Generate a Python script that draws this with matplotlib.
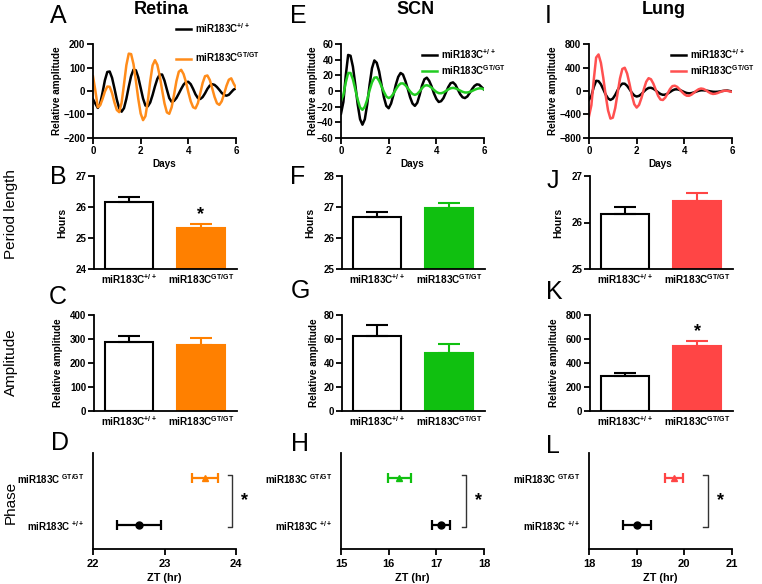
import matplotlib
matplotlib.use("Agg")
import matplotlib.pyplot as plt
import numpy as np

plt.rcParams['font.family'] = ['Liberation Sans', 'DejaVu Sans']
plt.rcParams['font.weight'] = 'bold'
plt.rcParams['mathtext.fontset'] = 'custom'
plt.rcParams['mathtext.rm'] = 'Liberation Sans:bold'
plt.rcParams['mathtext.bf'] = 'Liberation Sans:bold'
plt.rcParams['mathtext.default'] = 'rm'

W, H = 762, 584

# ---- data ----
tissues = ['Retina', 'SCN', 'Lung']
colors = ['#FF8000', '#10C010', '#FF4545']
line_colors = ['#FF8C1A', '#22CC22', '#FF5050']

# bioluminescence traces, one value every 0.1 day (0..6 days)
retina_wt = [-35, -54, -72, -54, -7, 46, 81, 83, 56, 11, -37, -74, -88, -73, -33, 18, 64, 91, 88, 58,
             13, -32, -62, -65, -49, -17, 20, 52, 70, 70, 44, 6, -30, -46, -42, -30, -11, 9, 27, 38,
             39, 29, 9, -14, -30, -34, -26, -10, 9, 23, 29, 26, 17, 5, -8, -17, -20, -16, -5, 6, 11]
retina_gt = [62, 1, -69, -61, -34, -2, 19, 18, -9, -49, -81, -90, -50, 28, 110, 159, 157, 114, 43, -34,
             -96, -124, -107, -43, 41, 109, 131, 111, 64, 4, -53, -91, -97, -69, -16, 42, 82, 90, 72, 38,
             -5, -44, -69, -74, -52, -10, 34, 63, 66, 47, 12, -25, -52, -59, -44, -13, 22, 48, 54, 32, 14]
scn_wt = [-29, -14, 20, 46, 45, 31, 8, -17, -36, -43, -36, -17, 8, 29, 39, 36, 25, 8, -8, -19,
          -22, -16, -5, 8, 18, 23, 21, 13, 3, -8, -16, -19, -15, -5, 7, 15, 17, 13, 6, -3,
          -10, -14, -13, -9, -2, 5, 10, 11, 8, 2, -4, -8, -9, -7, -2.5, 2.5, 6.5, 8.5, 8, 5, 2]
scn_gt = [-12, -5, 11, 23, 23, 15, 2, -11, -21, -24, -20, -11, 1, 11, 17, 17.5, 13, 6, -1, -7,
          -9, -7.5, -3.5, 2, 6.7, 9.6, 9.7, 7.4, 3.6, -0.6, -3.8, -5, -3.7, -0.4, 3.6, 6.7, 7.4, 6.4, 4.2, 1.4,
          -1.2, -2.7, -2.9, -1.9, 0, 2, 3.5, 4, 3.4, 2.1, 0.5, -1, -1.9, -1.9, -1.2, 0, 1.5, 2.7, 3.4, 3.2, 2]
lung_wt = [-152, -82, 68, 173, 168, 113, 28, -61, -127, -152, -129, -67, 14, 85, 126, 124, 88, 31, -31, -77,
           -94, -83, -52, -10, 28, 52, 55, 39, 10, -23, -51, -65, -62, -44, -17, 10, 27, 29, 19, 1,
           -19, -34, -40, -36, -24, -10, 4, 12, 12, 8, 1, -7, -13, -15, -13, -7, 0, 6, 8, 0, -8]
lung_gt = [-430, -241, 192, 570, 622, 479, 222, -75, -331, -470, -454, -291, -39, 213, 376, 396, 297, 121, -75, -225,
           -282, -237, -120, 29, 157, 218, 200, 126, 21, -82, -146, -153, -112, -40, 34, 83, 90, 70, 30, -16,
           -56, -80, -81, -62, -31, 3, 30, 42, 35, 14, -14, -38, -50, -46, -34, -17, -2, 6, 3, -6, -14]
traces_wt = [retina_wt, scn_wt, lung_wt]
traces_gt = [retina_gt, scn_gt, lung_gt]

# period length (hours), mean and SEM
period_wt = [26.17, 26.69, 26.18]
period_wt_err = [0.16, 0.16, 0.15]
period_gt = [25.31, 26.96, 26.46]
period_gt_err = [0.14, 0.17, 0.18]

# amplitude
amp_wt = [289, 62.5, 291]
amp_wt_err = [23, 9, 26]
amp_gt = [275, 48, 540]
amp_gt_err = [28, 8, 40]

# phase (ZT, hr)
phase_wt = [22.64, 17.09, 19.01]
phase_wt_err = [0.31, 0.19, 0.29]
phase_gt = [23.57, 16.22, 19.78]
phase_gt_err = [0.18, 0.24, 0.19]

trace_ylim = [(-200, 200), (-60, 60), (-800, 800)]
trace_yticks = [np.arange(-200, 201, 100), np.arange(-60, 61, 20), np.arange(-800, 801, 400)]
period_ylim = [(24, 27), (25, 28), (25, 27)]
amp_ylim = [(0, 400), (0, 80), (0, 800)]
amp_step = [100, 20, 200]
phase_xlim = [(22, 24), (15, 18), (18, 21)]

wt_lab = 'miR183C$^{+/+}$'
gt_lab = 'miR183C$^{GT/GT}$'

# ---- layout (pixel boxes: left, top, right, bottom) ----
col_x = [(93, 236), (341, 484), (589, 732)]
rows = [(44, 138), (176, 269), (315, 411), (453, 549)]


def box(l, t, r, b):
    return [l / W, 1 - b / H, (r - l) / W, (b - t) / H]


def style(ax):
    for s in ['top', 'right']:
        ax.spines[s].set_visible(False)
    for s in ['left', 'bottom']:
        ax.spines[s].set_linewidth(1.3)
    ax.tick_params(width=1.3, length=4, labelsize=7, pad=1.5)


fig = plt.figure(figsize=(W / 100, H / 100), dpi=100)

for i in range(3):
    l, r = col_x[i]
    c = colors[i]

    # --- traces ---
    ax = fig.add_axes(box(l, rows[0][0], r, rows[0][1]))
    style(ax)
    days = np.arange(len(traces_wt[i])) / 10
    ax.plot(days, traces_wt[i], color='black', lw=1.8, label=wt_lab)
    ax.plot(days, traces_gt[i], color=line_colors[i], lw=1.8, label=gt_lab)
    ax.set_xlim(0, 6)
    ax.set_ylim(*trace_ylim[i])
    ax.set_xticks([0, 2, 4, 6])
    ax.set_yticks(trace_yticks[i])
    ax.set_xlabel('Days', fontsize=7.2, fontweight='bold')
    ax.xaxis.set_label_coords(0.5, -0.22)
    ax.set_ylabel('Relative amplitude', fontsize=7.2, fontweight='bold')
    ax.yaxis.set_label_coords(-0.22 if i != 1 else -0.16, 0.5)
    if i == 0:
        fig.legend(loc='upper left', bbox_to_anchor=(176 / W, 1 - 21 / H), frameon=False,
                   fontsize=7, handlelength=1.55, handletextpad=0.45, labelspacing=1.6,
                   borderpad=0, borderaxespad=0, handles=ax.get_lines())
    else:
        lx = [0, 422, 671][i]
        fig.legend(loc='upper left', bbox_to_anchor=(lx / W, 1 - 47 / H), frameon=False,
                   fontsize=7, handlelength=1.55, handletextpad=0.45, labelspacing=0.2,
                   borderpad=0, borderaxespad=0, handles=ax.get_lines())

    # --- period length and amplitude bars ---
    for row, wt, wte, gt, gte, ylim, step in [
            (1, period_wt, period_wt_err, period_gt, period_gt_err, period_ylim[i], 1),
            (2, amp_wt, amp_wt_err, amp_gt, amp_gt_err, amp_ylim[i], amp_step[i])]:
        ax = fig.add_axes(box(l + 1, rows[row][0], r + 1, rows[row][1]))
        style(ax)
        base = ylim[0]
        ax.bar([0], [wt[i] - base], bottom=base, width=0.66, color='white', edgecolor='black', lw=1.5)
        ax.bar([1], [gt[i] - base], bottom=base, width=0.66, color=c, edgecolor=c, lw=1.5)
        ax.errorbar([0], [wt[i]], yerr=[[0], [wte[i]]], fmt='none', ecolor='black',
                    elinewidth=1.5, capsize=8, capthick=1.5)
        ax.errorbar([1], [gt[i]], yerr=[[0], [gte[i]]], fmt='none', ecolor=c,
                    elinewidth=1.5, capsize=8, capthick=1.5)
        ax.set_xlim(-0.49, 1.5)
        ax.set_ylim(*ylim)
        ax.set_yticks(np.arange(ylim[0], ylim[1] + step / 2, step))
        ax.set_xticks([0, 1])
        ax.set_xticklabels([wt_lab, gt_lab], fontsize=7.2)
        ax.tick_params(axis='x', length=0, pad=2)
        if row == 1:
            ax.set_ylabel('Hours', fontsize=7.5, fontweight='bold')
            ax.yaxis.set_label_coords(-0.19, 0.5)
        else:
            ax.set_ylabel('Relative amplitude', fontsize=7.2, fontweight='bold')
            ax.yaxis.set_label_coords(-0.22 if i != 1 else -0.16, 0.5)

    # --- phase ---
    ax = fig.add_axes(box(l, rows[3][0], r, rows[3][1]))
    style(ax)
    ax.errorbar([phase_wt[i]], [1], xerr=[phase_wt_err[i]], fmt='o', color='black', ms=5,
                elinewidth=1.6, capsize=3.5, capthick=1.6)
    ax.errorbar([phase_gt[i]], [2], xerr=[phase_gt_err[i]], fmt='^', color=c, ms=5,
                elinewidth=1.6, capsize=3.5, capthick=1.6)
    x0, x1 = phase_xlim[i]
    ax.set_xlim(x0, x1)
    ax.set_ylim(0.49, 2.53)
    ax.set_xticks(np.arange(x0, x1 + 0.5, 1))
    ax.set_yticks([1, 2])
    ax.set_yticklabels(['miR183C $^{+/+}$', 'miR183C $^{GT/GT}$'], fontsize=7)
    ax.tick_params(axis='y', length=0, pad=6)
    ax.tick_params(axis='x', labelsize=8, pad=3)
    ax.set_xlabel('ZT (hr)', fontsize=7.8, fontweight='bold')
    ax.xaxis.set_label_coords(0.5, -0.245)
    # significance bracket
    span = x1 - x0
    bx = x0 + span * [0.972, 0.875, 0.83][i]
    tick = span * 0.03
    ax.plot([bx - tick, bx, bx, bx - tick], [2.06, 2.06, 0.96, 0.96], color='#333333', lw=1.0,
            clip_on=False)
    ax.text(bx + span * 0.09, 1.51, '*', fontsize=13, fontweight='bold', ha='center', va='center')

# stars on bars (B and K)
fig.text(201 / W, 1 - 215 / H, '*', fontsize=13, fontweight='bold', ha='center', va='center')
fig.text(698 / W, 1 - 332 / H, '*', fontsize=13, fontweight='bold', ha='center', va='center')

# column titles
for i, x in enumerate([161, 416, 664]):
    fig.text(x / W, 1 - 9 / H, tissues[i], fontsize=13, fontweight='bold', ha='center', va='center')

# panel letters
letters = [('A', 58, 16), ('B', 58, 177), ('C', 58, 297), ('D', 60, 443),
           ('E', 298, 16), ('F', 298, 177), ('G', 300, 291), ('H', 300, 444),
           ('I', 548, 16), ('J', 553, 181), ('K', 554, 292), ('L', 553, 446)]
for t, x, y in letters:
    fig.text(x / W, 1 - y / H, t, fontsize=18, fontweight='normal', ha='center', va='center')

# row labels
for t, y in [('Period length', 214), ('Amplitude', 362), ('Phase', 502)]:
    fig.text(11 / W, 1 - y / H, t, fontsize=11, fontweight='normal', rotation=90,
             ha='center', va='center')

fig.savefig('out.png', dpi=100)
